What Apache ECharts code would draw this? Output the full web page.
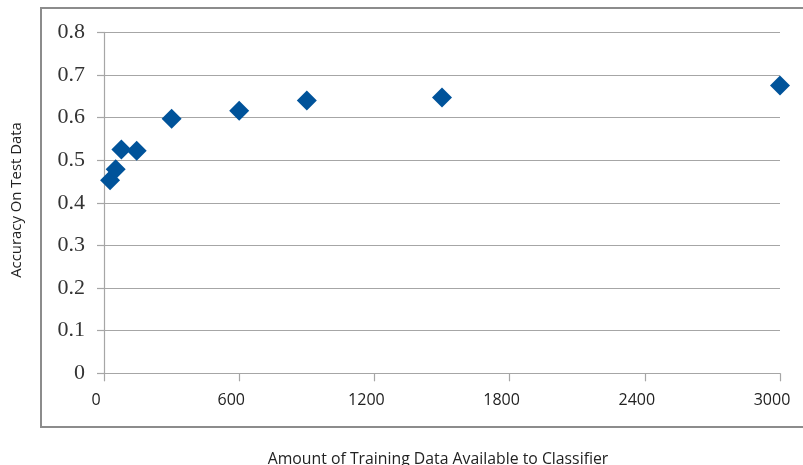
<!DOCTYPE html>
<html>
<head>
<meta charset="utf-8">
<script src="https://cdn.jsdelivr.net/npm/echarts@6/dist/echarts.min.js"></script>
<style>
  html, body { margin: 0; padding: 0; background: #fff; }
  #chart { width: 803px; height: 465px; }
</style>
</head>
<body>
<div id="chart"></div>
<script>
// Training set size vs. accuracy on held-out test data
const trainingSizes = [27, 52, 77, 145, 300, 600, 900, 1500, 3000];
const testAccuracy = [0.453, 0.479, 0.525, 0.522, 0.597, 0.616, 0.640, 0.647, 0.675];
const xTicks = [0, 600, 1200, 1800, 2400, 3000];
const yTicks = [0, 0.1, 0.2, 0.3, 0.4, 0.5, 0.6, 0.7, 0.8];
const xTitle = 'Amount of Training Data Available to Classifier';
const yTitle = 'Accuracy On Test Data';

const points = trainingSizes.map((x, i) => [x, testAccuracy[i]]);
const lineGray = '#a6a6a6';

const chart = echarts.init(document.getElementById('chart'), null, { renderer: 'canvas' });
chart.setOption({
  animation: false,
  backgroundColor: '#fff',
  grid: { left: 104, right: 23, top: 32.3, bottom: 91.7, containLabel: false },
  xAxis: {
    type: 'value',
    min: xTicks[0],
    max: xTicks[xTicks.length - 1],
    interval: xTicks[1] - xTicks[0],
    axisLine: { show: true, lineStyle: { color: lineGray, width: 1.2 } },
    axisTick: { show: true, length: 8, inside: false, lineStyle: { color: lineGray, width: 1.2 } },
    splitLine: { show: false },
    axisLabel: {
      margin: 19,
      padding: [0, 16, 0, 0],
      fontFamily: 'Open Sans',
      fontSize: 16,
      color: '#222',
      formatter: v => String(v)
    }
  },
  yAxis: {
    type: 'value',
    min: yTicks[0],
    max: yTicks[yTicks.length - 1],
    interval: 0.1,
    axisLine: { show: true, lineStyle: { color: lineGray, width: 1.2 } },
    axisTick: { show: true, length: 7, inside: false, lineStyle: { color: lineGray, width: 1.2 } },
    splitLine: { show: true, lineStyle: { color: lineGray, width: 1.2 } },
    axisLabel: {
      margin: 19,
      fontFamily: 'Liberation Serif',
      fontSize: 22,
      color: '#333',
      formatter: v => String(Math.round(v * 10) / 10)
    }
  },
  series: [{
    type: 'scatter',
    data: points,
    symbol: 'diamond',
    symbolSize: 20,
    itemStyle: { color: '#00539a', opacity: 1 }
  }],
  graphic: [
    {
      type: 'rect',
      shape: { x: 41, y: 8, width: 800, height: 419 },
      style: { fill: null, stroke: '#8c8c8c', lineWidth: 2 },
      z: -1,
      silent: true
    },
    {
      type: 'text',
      x: 438,
      y: 459,
      style: {
        text: xTitle,
        fontFamily: 'Open Sans',
        fontSize: 15.8,
        fill: '#222',
        align: 'center',
        verticalAlign: 'middle'
      }
    },
    {
      type: 'text',
      x: 17,
      y: 200,
      rotation: Math.PI / 2,
      style: {
        text: yTitle,
        fontFamily: 'Open Sans',
        fontSize: 14.9,
        fill: '#222',
        align: 'center',
        verticalAlign: 'middle'
      }
    }
  ]
});
</script>
</body>
</html>
